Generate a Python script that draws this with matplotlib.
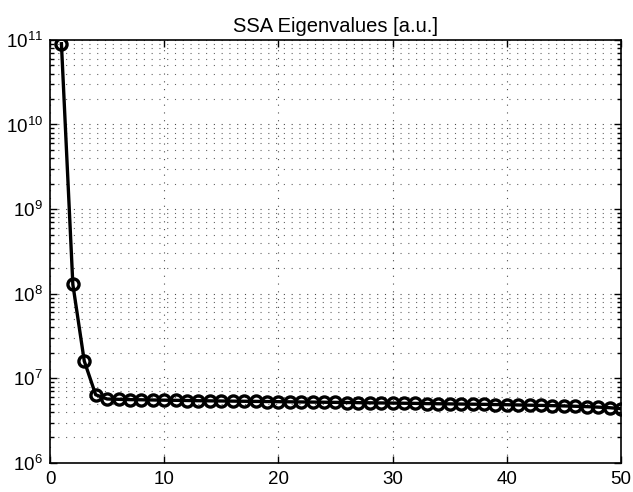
import matplotlib
matplotlib.use("Agg")
import matplotlib.pyplot as plt
from matplotlib.ticker import LogLocator, NullFormatter

# eigenvalue index and values
index = list(range(1, 51))
eigenvalues = [
    9.0e10, 1.29e8, 1.6e7, 6.4e6, 5.7e6, 5.65e6, 5.6e6, 5.58e6, 5.55e6, 5.52e6,
    5.5e6, 5.47e6, 5.44e6, 5.42e6, 5.4e6, 5.38e6, 5.36e6, 5.34e6, 5.32e6, 5.3e6,
    5.28e6, 5.26e6, 5.24e6, 5.22e6, 5.2e6, 5.18e6, 5.16e6, 5.14e6, 5.12e6, 5.1e6,
    5.08e6, 5.06e6, 5.03e6, 5.01e6, 4.99e6, 4.97e6, 4.95e6, 4.93e6, 4.9e6, 4.88e6,
    4.85e6, 4.82e6, 4.79e6, 4.76e6, 4.72e6, 4.68e6, 4.63e6, 4.57e6, 4.5e6, 4.38e6,
]
x_ticks = [0, 10, 20, 30, 40, 50]

plt.rcParams["font.family"] = ["Liberation Sans", "DejaVu Sans"]
plt.rcParams["mathtext.fontset"] = "custom"
plt.rcParams["mathtext.rm"] = "Liberation Sans"
plt.rcParams["mathtext.it"] = "Liberation Sans"

fig = plt.figure(figsize=(6.33, 4.92), dpi=100)
ax = fig.add_axes([0.079, 0.059, 0.902, 0.860])

ax.semilogy(index, eigenvalues, color="black", linewidth=2.4, marker="o",
            markersize=8, markerfacecolor="none", markeredgewidth=2.4)

ax.set_xlim(0, 50)
ax.set_ylim(1e6, 1e11)
ax.set_xticks(x_ticks)
ax.yaxis.set_major_locator(LogLocator(base=10, numticks=10))
ax.yaxis.set_minor_locator(LogLocator(base=10, subs=range(2, 10), numticks=20))
ax.yaxis.set_minor_formatter(NullFormatter())

ax.tick_params(which="both", direction="in", top=True, right=True, labelsize=13.5, width=1)
ax.tick_params(which="major", length=5)
ax.tick_params(which="minor", length=3)
ax.tick_params(axis="x", pad=6)
ax.tick_params(axis="y", pad=5)

ax.grid(which="major", color="black", linestyle=(0, (1, 6)), linewidth=0.8, alpha=0.7)
ax.grid(which="minor", axis="y", color="black", linestyle=(0, (1, 6)), linewidth=0.8, alpha=0.6)

for spine in ax.spines.values():
    spine.set_linewidth(1.2)

ax.set_title("SSA Eigenvalues [a.u.]", fontsize=14.5, pad=6)

fig.savefig("out.png", dpi=100)
